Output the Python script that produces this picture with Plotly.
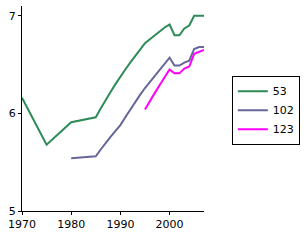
import plotly.graph_objects as go

years_53 = [1970, 1975, 1980, 1985, 1986, 1987, 1988, 1989, 1990, 1991, 1992, 1993, 1994,
            1995, 1996, 1997, 1998, 1999, 2000, 2001, 2002, 2003, 2004, 2005, 2006, 2007]
vals_53 = [6.16, 5.68, 5.91, 5.96, 6.05, 6.14, 6.22, 6.30, 6.38, 6.45, 6.52, 6.59, 6.66,
           6.72, 6.76, 6.80, 6.84, 6.88, 6.91, 6.80, 6.80, 6.87, 6.90, 7.00, 7.00, 7.00]

years_102 = [1980, 1985, 1986, 1987, 1988, 1989, 1990, 1991, 1992, 1993, 1994, 1995, 1996,
             1997, 1998, 1999, 2000, 2001, 2002, 2003, 2004, 2005, 2006, 2007]
vals_102 = [5.54, 5.56, 5.63, 5.70, 5.76, 5.82, 5.88, 5.96, 6.04, 6.11, 6.19, 6.26, 6.32,
            6.38, 6.44, 6.50, 6.57, 6.49, 6.49, 6.52, 6.54, 6.66, 6.68, 6.68]

years_123 = [1995, 1996, 1997, 1998, 1999, 2000, 2001, 2002, 2003, 2004, 2005, 2006, 2007]
vals_123 = [6.04, 6.13, 6.21, 6.29, 6.37, 6.45, 6.41, 6.41, 6.46, 6.48, 6.61, 6.63, 6.65]

x_ticks = [1970, 1980, 1990, 2000]
y_ticks = [5, 6, 7]

fig = go.Figure()
fig.add_trace(go.Scatter(x=years_53, y=vals_53, mode="lines", name="53",
                         line=dict(color="#2e8b57", width=2)))
fig.add_trace(go.Scatter(x=years_102, y=vals_102, mode="lines", name="102",
                         line=dict(color="#666699", width=2)))
fig.add_trace(go.Scatter(x=years_123, y=vals_123, mode="lines", name="123",
                         line=dict(color="#ff00ff", width=2)))

fig.update_layout(
    width=306, height=240,
    margin=dict(l=22, r=94, t=6, b=29),
    paper_bgcolor="white", plot_bgcolor="white",
    font=dict(family="DejaVu Sans", size=11, color="black"),
    showlegend=True,
    legend=dict(x=1.153, y=0.66, xanchor="left", yanchor="top",
                bordercolor="black", borderwidth=1, bgcolor="white",
                font=dict(size=11), itemwidth=30, tracegroupgap=0),
    xaxis=dict(range=[1970, 2007], tickvals=x_ticks, ticktext=[str(v) for v in x_ticks],
               showgrid=False, zeroline=False, showline=True, linecolor="black",
               linewidth=1, ticks="outside", ticklen=3, tickcolor="black"),
    yaxis=dict(range=[5, 7.1], tickvals=y_ticks, ticktext=[str(v) for v in y_ticks],
               showgrid=False, zeroline=False, showline=True, linecolor="black",
               linewidth=1, ticks="outside", ticklen=3, tickcolor="black"),
)

fig.write_html("out.html")
